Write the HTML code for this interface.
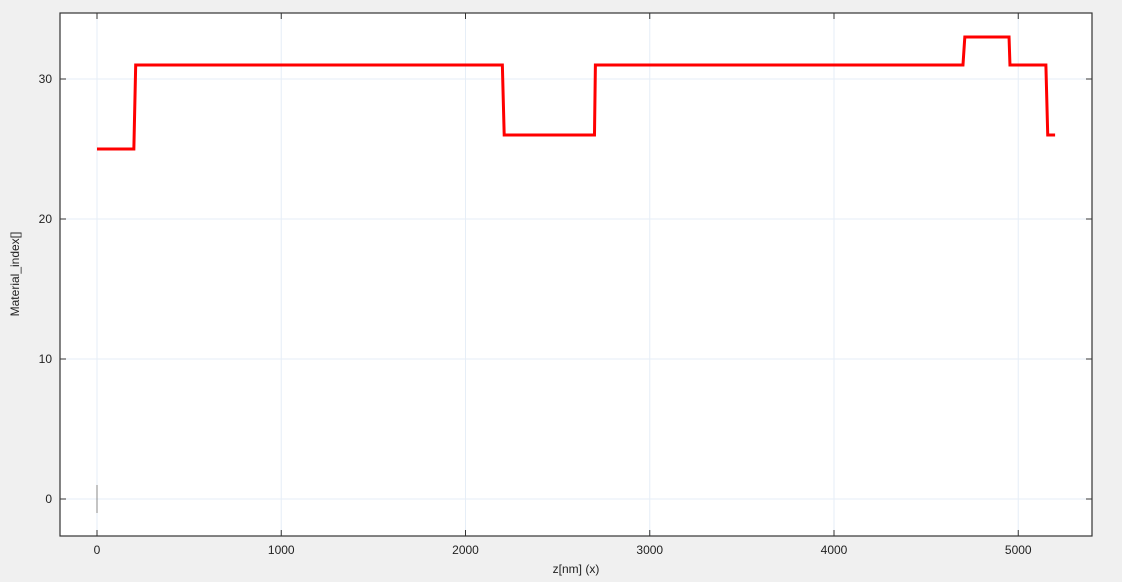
<!DOCTYPE html>
<html><head><meta charset="utf-8"><style>
html,body{margin:0;padding:0;background:#f0f0f0;}
svg{display:block;font-family:"Liberation Sans",sans-serif;}
</style></head><body>
<svg id="chart" width="1122" height="582">
<rect x="60" y="13" width="1032" height="523" fill="#fff"/>
<g id="grid"></g>
<g id="ticks"></g>
<g id="series"></g>
<rect x="60" y="13" width="1032" height="523" fill="none" stroke="#333" stroke-width="1.2"/>
<text x="576" y="573" font-size="12" text-anchor="middle" fill="#222">z[nm] (x)</text>
<text transform="translate(19,274) rotate(-90)" font-size="12" text-anchor="middle" fill="#222">Material_index[]</text>
</svg>
<script>
const xTicks=[0,1000,2000,3000,4000,5000];
const yTicks=[0,10,20,30];
const zValues=[0,200,210,2200,2210,2700,2705,4700,4710,4950,4955,5150,5160,5200];
const materialIndex=[25,25,31,31,26,26,31,31,33,33,31,31,26,26];
const markerZ=[0,0];
const markerY=[-1,1];
const NS="http://www.w3.org/2000/svg";
const X=v=>97+v*0.18425;
const Y=v=>499-v*14;
function mk(t,a,p){const e=document.createElementNS(NS,t);for(const k in a)e.setAttribute(k,a[k]);p.appendChild(e);return e;}
const grid=document.getElementById('grid'),ticks=document.getElementById('ticks'),series=document.getElementById('series');
xTicks.forEach(v=>{
  const g=mk('line',{x1:X(v),x2:X(v),y1:13,y2:536,stroke:'#e6eef7'},grid);
  
  
  [[536,530],[13,19]].forEach(([a,b])=>{const t=mk('line',{x1:X(v),x2:X(v),y1:a,y2:b,stroke:'#333'},ticks);
  
  });
  const l=mk('text',{x:X(v),y:554,'font-size':12,'text-anchor':'middle',fill:'#222'},ticks);l.textContent=v;
  
  
});
yTicks.forEach(v=>{
  const g=mk('line',{x1:60,x2:1092,y1:Y(v),y2:Y(v),stroke:'#e6eef7'},grid);
  
  
  [[60,66],[1092,1086]].forEach(([a,b])=>{const t=mk('line',{x1:a,x2:b,y1:Y(v),y2:Y(v),stroke:'#333'},ticks);
  
  });
  const l=mk('text',{x:52,y:Y(v)+4,'font-size':12,'text-anchor':'end',fill:'#222'},ticks);l.textContent=v;
  
  
});
const m=mk('polyline',{points:markerZ.map((z,i)=>X(z)+','+Y(markerY[i])).join(' '),fill:'none',stroke:'#888','stroke-width':1},series);


const p=mk('polyline',{points:zValues.map((z,i)=>X(z)+','+Y(materialIndex[i])).join(' '),fill:'none',stroke:'#ff0000','stroke-width':3,'stroke-linejoin':'miter'},series);


</script>
</body></html>
